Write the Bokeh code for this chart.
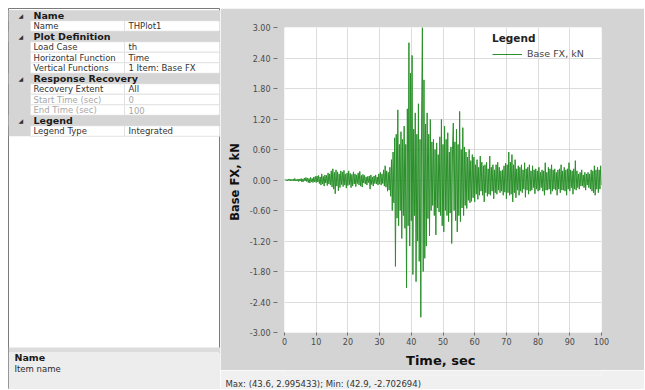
from bokeh.plotting import figure
from bokeh.models import (Range1d, FixedTicker, NumeralTickFormatter, Legend,
                          LegendItem, ColumnDataSource, Spacer, Title)
from bokeh.layouts import row, column
from bokeh.embed import file_html
from bokeh.resources import INLINE
from bokeh.core.properties import value

# ---------------- data ----------------
DT = 0.25  # sampling step of the recorded history, sec
fx_00_05 = [0.00, 0.01, -0.01, 0.01, -0.02, 0.02, -0.01, 0.02, -0.02, 0.01,
            -0.01, 0.02, -0.02, 0.03, -0.02, 0.01, -0.02, 0.02, -0.03, 0.02]
fx_05_10 = [-0.02, 0.03, -0.04, 0.02, -0.03, 0.04, -0.02, 0.05, -0.03, 0.04,
            -0.05, 0.03, -0.06, 0.05, -0.04, 0.03, -0.05, 0.06, -0.04, 0.07]
fx_10_15 = [-0.05, 0.08, -0.04, 0.09, -0.07, 0.06, -0.10, 0.12, -0.08, 0.07,
            -0.12, 0.10, -0.06, 0.09, -0.11, 0.14, -0.08, 0.12, -0.10, 0.18]
fx_15_20 = [-0.14, 0.22, -0.18, 0.15, -0.27, 0.20, -0.12, 0.16, -0.21, 0.12,
            -0.15, 0.18, -0.09, 0.16, -0.13, 0.19, -0.10, 0.12, -0.16, 0.14]
fx_20_25 = [-0.11, 0.18, -0.09, 0.13, -0.15, 0.11, -0.12, 0.16, -0.08, 0.12,
            -0.13, 0.10, -0.07, 0.14, -0.10, 0.17, -0.12, 0.09, -0.14, 0.11]
fx_25_30 = [-0.06, 0.09, -0.08, 0.06, -0.10, 0.07, -0.05, 0.08, -0.18, 0.10,
            -0.09, 0.06, -0.12, 0.08, -0.07, 0.10, -0.08, 0.06, -0.10, 0.12]
fx_30_35 = [-0.08, 0.15, -0.10, 0.12, -0.07, 0.20, -0.12, 0.28, -0.14, 0.18,
            -0.22, 0.15, -0.20, 0.25, -0.32, 0.40, -0.60, 0.55, -0.45, 0.83]
fx_35_40 = [-1.70, 0.90, -0.75, 1.38, -0.90, 0.70, -0.60, 0.95, -1.15, 0.80,
            -0.70, 1.06, -0.95, 0.70, -2.12, 1.40, -0.90, 2.70, -1.30, 2.10]
fx_40_45 = [-0.80, 2.45, -1.86, 1.00, -0.70, 1.32, -2.00, 0.90, -1.20, 1.50,
            -1.60, 0.80, -2.70, 1.20, 3.00, -1.80, 1.97, -1.54, 1.10, -1.30]
fx_45_50 = [1.32, -0.76, 0.90, -1.10, 1.19, -0.60, 0.75, -0.50, 0.80, -0.70,
            0.60, -1.08, 0.73, -0.55, 0.50, -0.63, 0.85, -0.70, 1.19, -0.90]
fx_50_55 = [0.70, -1.02, 1.06, -0.60, 0.80, -0.70, 0.93, -0.82, 0.55, -0.65,
            0.65, -1.25, 0.60, 1.12, -0.60, 0.75, -0.80, 1.00, -1.02, 0.70]
fx_55_60 = [-0.70, 1.35, -0.82, 0.60, -0.55, 1.03, -0.70, 0.65, -0.50, 0.55,
            -0.56, 0.45, -0.40, 0.60, -0.45, 0.38, -0.42, 0.50, -0.35, 0.45]
fx_60_65 = [-0.43, 0.30, -0.28, 0.40, -0.38, 0.25, -0.30, 0.47, -0.22, 0.35,
            -0.30, 0.28, -0.43, 0.30, -0.25, 0.35, -0.32, 0.22, -0.28, 0.47]
fx_65_70 = [-0.30, 0.25, -0.22, 0.30, -0.37, 0.20, -0.25, 0.30, -0.28, 0.35,
            -0.20, 0.25, -0.25, 0.18, -0.22, 0.20, -0.30, 0.28, -0.24, 0.33]
fx_70_75 = [-0.37, 0.30, -0.25, 0.55, -0.30, 0.35, -0.28, 0.50, -0.43, 0.30,
            -0.25, 0.40, -0.35, 0.22, -0.20, 0.28, -0.30, 0.25, -0.22, 0.30]
fx_75_80 = [-0.25, 0.20, -0.18, 0.34, -0.34, 0.22, -0.20, 0.25, -0.28, 0.30,
            -0.22, 0.18, -0.20, 0.28, -0.15, 0.20, -0.27, 0.22, -0.18, 0.18]
fx_80_85 = [-0.22, 0.25, -0.20, 0.15, -0.15, 0.20, -0.22, 0.18, -0.30, 0.34,
            -0.20, 0.15, -0.20, 0.25, -0.18, 0.22, -0.28, 0.30, -0.22, 0.20]
fx_85_90 = [-0.18, 0.22, -0.20, 0.15, -0.30, 0.20, -0.18, 0.22, -0.25, 0.30,
            -0.20, 0.18, -0.20, 0.25, -0.22, 0.20, -0.30, 0.22, -0.18, 0.34]
fx_90_95 = [-0.22, 0.20, -0.15, 0.18, -0.28, 0.22, -0.18, 0.38, -0.20, 0.18,
            -0.15, 0.12, -0.18, 0.15, -0.12, 0.20, -0.12, 0.10, -0.15, 0.15]
fx_95_100 = [-0.20, 0.12, -0.10, 0.15, -0.15, 0.12, -0.18, 0.20, -0.22, 0.18,
             -0.25, 0.28, -0.30, 0.20, -0.18, 0.25, -0.25, 0.20, -0.18, 0.28,
             -0.10]
base_fx_kn = (fx_00_05 + fx_05_10 + fx_10_15 + fx_15_20 + fx_20_25 + fx_25_30
              + fx_30_35 + fx_35_40 + fx_40_45 + fx_45_50 + fx_50_55
              + fx_55_60 + fx_60_65 + fx_65_70 + fx_70_75 + fx_75_80
              + fx_80_85 + fx_85_90 + fx_90_95 + fx_95_100)
time_sec = [round(i * DT, 2) for i in range(len(base_fx_kn))]

x_ticks = [0, 10, 20, 30, 40, 50, 60, 70, 80, 90, 100]
y_ticks = [-3.0, -2.4, -1.8, -1.2, -0.6, 0.0, 0.6, 1.2, 1.8, 2.4, 3.0]
series_label = "Base FX, kN"
x_title = "Time,  sec"
y_title = "Base FX,  kN"
legend_title = "Legend"
status_text = "Max: (43.6, 2.995433);   Min: (42.9, -2.702694)"

grid_kind = ["cat", "prop", "cat", "prop", "prop", "prop",
             "cat", "prop", "prop", "prop", "cat", "prop"]
grid_name = ["Name", "Name", "Plot Definition", "Load Case",
             "Horizontal Function", "Vertical Functions", "Response Recovery",
             "Recovery Extent", "Start Time (sec)", "End Time (sec)",
             "Legend", "Legend Type"]
grid_value = ["", "THPlot1", "", "th", "Time", "1 Item: Base FX", "",
              "All", "0", "100", "", "Integrated"]
grid_enabled = [True, True, True, True, True, True, True, True,
                False, False, True, True]
desc_title = "Name"
desc_text = "Item name"

# ---------------- styling ----------------
UI_FONT = "DejaVu Sans"
PANEL_GREY = "#d4d4d4"
LIGHT = "#f0f0f0"
PAGE_PAD = 8
TOTAL_H = 381
LEFT_W = 212
RIGHT_W = 424
STATUS_H = 19
PLOT_H = 362
FRAME_L = 64
FRAME_R = 43

# ---------------- left property panel ----------------
left = figure(width=LEFT_W, height=TOTAL_H, x_range=Range1d(0, LEFT_W),
              y_range=Range1d(TOTAL_H, 0), x_axis_location=None,
              y_axis_location=None, toolbar_location=None,
              output_backend="svg", min_border=0)
left.grid.visible = False
left.background_fill_color = "white"
left.border_fill_color = "white"
left.outline_line_color = "#7a7a7a"
left.outline_line_width = 1

ROW_H = 10.5
TOP0 = 1.75
GUTTER = 22
SPLIT = 116
n = len(grid_name)
tops = [TOP0 + ROW_H * i for i in range(n)]
bots = [t + ROW_H for t in tops]
mids = [t + ROW_H / 2 for t in tops]
cats = [i for i in range(n) if grid_kind[i] == "cat"]
props = [i for i in range(n) if grid_kind[i] == "prop"]

left.quad(left=0, right=GUTTER, top=TOP0, bottom=TOP0 + ROW_H * n,
          fill_color="#d5d5d5", line_color=None)
left.quad(left=[GUTTER] * len(props), right=[SPLIT] * len(props),
          top=[tops[i] for i in props], bottom=[bots[i] for i in props],
          fill_color="white", line_color="#e2e2e2", line_width=1)
left.quad(left=[SPLIT] * len(props), right=[LEFT_W - 1] * len(props),
          top=[tops[i] for i in props], bottom=[bots[i] for i in props],
          fill_color="white", line_color="#e2e2e2", line_width=1)
left.quad(left=[0] * len(cats), right=[LEFT_W] * len(cats),
          top=[tops[i] for i in cats], bottom=[bots[i] for i in cats],
          fill_color="#d5d5d5", line_color=None)

left.text(x=[10] * len(cats), y=[mids[i] for i in cats],
          text=["\u25E2"] * len(cats), text_font=value(UI_FONT),
          text_font_size="6px", text_baseline="middle", text_align="left",
          text_color="#303030")
left.text(x=[25] * len(cats), y=[mids[i] for i in cats],
          text=[grid_name[i] for i in cats], text_font=value(UI_FONT),
          text_font_style="bold", text_font_size="9.5px",
          text_baseline="middle", text_align="left", text_color="#1a1a1a")
src_p = ColumnDataSource(dict(
    y=[mids[i] for i in props],
    name=[grid_name[i] for i in props],
    val=[grid_value[i] for i in props],
    col=["#333333" if grid_enabled[i] else "#a8a8a8" for i in props],
))
left.text(x=25, y="y", text="name", source=src_p, text_font=value(UI_FONT),
          text_font_size="8.5px", text_baseline="middle", text_align="left",
          text_color="col")
left.text(x=SPLIT + 4, y="y", text="val", source=src_p,
          text_font=value(UI_FONT), text_font_size="8.5px",
          text_baseline="middle", text_align="left", text_color="col")

# description pane
left.quad(left=0, right=LEFT_W, top=339, bottom=344, fill_color="#dcdcdc",
          line_color=None)
left.quad(left=0, right=LEFT_W, top=344, bottom=TOTAL_H, fill_color="#ededed",
          line_color=None)
left.text(x=[6], y=[349], text=[desc_title], text_font=value(UI_FONT),
          text_font_style="bold", text_font_size="9.5px",
          text_baseline="middle", text_color="#1a1a1a")
left.text(x=[6], y=[360], text=[desc_text], text_font=value(UI_FONT),
          text_font_size="8.5px", text_baseline="middle", text_color="#2a2a2a")

# ---------------- right: the time-history plot ----------------
p = figure(width=RIGHT_W, height=PLOT_H, x_range=Range1d(0, 100),
           y_range=Range1d(-3, 3), toolbar_location=None,
           output_backend="svg", min_border_left=FRAME_L,
           min_border_right=FRAME_R, min_border_top=19, min_border_bottom=35)
p.border_fill_color = PANEL_GREY
p.background_fill_color = "white"
p.outline_line_color = None

r = p.line(time_sec, base_fx_kn, line_color="#2a902a", line_width=1)

p.xaxis.ticker = FixedTicker(ticks=x_ticks)
p.yaxis.ticker = FixedTicker(ticks=y_ticks)
p.yaxis.formatter = NumeralTickFormatter(format="0.00")
p.xgrid.ticker = FixedTicker(ticks=x_ticks)
p.ygrid.ticker = FixedTicker(ticks=y_ticks)
p.grid.grid_line_color = "#dcdcdc"
p.grid.grid_line_width = 1

for ax in (p.xaxis, p.yaxis):
    ax.axis_line_color = None
    ax.minor_tick_line_color = None
    ax.major_tick_line_color = "#707070"
    ax.major_label_text_font = UI_FONT
    ax.major_label_text_font_size = "8px"
    ax.major_label_text_color = "#4a4a4a"
    ax.axis_label_text_font = UI_FONT
    ax.axis_label_text_font_style = "bold"
    ax.axis_label_text_color = "#111111"

p.yaxis.major_tick_in = -7
p.yaxis.major_tick_out = 11
p.yaxis.major_label_standoff = 3
p.yaxis.axis_label = y_title
p.yaxis.axis_label_text_font_size = "11.5px"
p.yaxis.axis_label_standoff = 5

p.xaxis.major_tick_in = 0
p.xaxis.major_tick_out = 3
p.xaxis.major_label_standoff = 2
p.xaxis.axis_label = x_title
p.xaxis.axis_label_text_font_size = "13px"
p.xaxis.axis_label_standoff = 5

legend = Legend(items=[LegendItem(label=series_label, renderers=[r])],
                location=(208, 273), title=legend_title)
legend.title_text_font = UI_FONT
legend.title_text_font_style = "bold"
legend.title_text_font_size = "10.5px"
legend.title_text_color = "#222222"
legend.title_standoff = 4
legend.label_text_font = UI_FONT
legend.label_text_font_size = "9.5px"
legend.label_text_color = "#444444"
legend.glyph_width = 30
legend.glyph_height = 10
legend.label_height = 10
legend.label_standoff = 5
legend.spacing = 0
legend.padding = 3
legend.margin = 0
legend.border_line_color = None
legend.background_fill_alpha = 0
p.add_layout(legend)

# ---------------- status bar ----------------
status = figure(width=RIGHT_W, height=STATUS_H, x_range=Range1d(0, 1),
                y_range=Range1d(0, 1), x_axis_location=None,
                y_axis_location=None, toolbar_location=None,
                output_backend="svg", min_border_left=FRAME_L,
                min_border_right=FRAME_R, min_border_top=0,
                min_border_bottom=0)
status.grid.visible = False
status.background_fill_color = LIGHT
status.border_fill_color = LIGHT
status.outline_line_color = None
status.add_layout(Title(text=status_text, align="left", offset=5 - FRAME_L,
                        text_font=UI_FONT, text_font_size="8.5px",
                        text_font_style="normal", text_color="#333333",
                        standoff=2), "below")

layout = column(Spacer(height=PAGE_PAD),
                row(Spacer(width=PAGE_PAD), left, column(p, status)))
open("out.html", "w").write(file_html(layout, INLINE))
